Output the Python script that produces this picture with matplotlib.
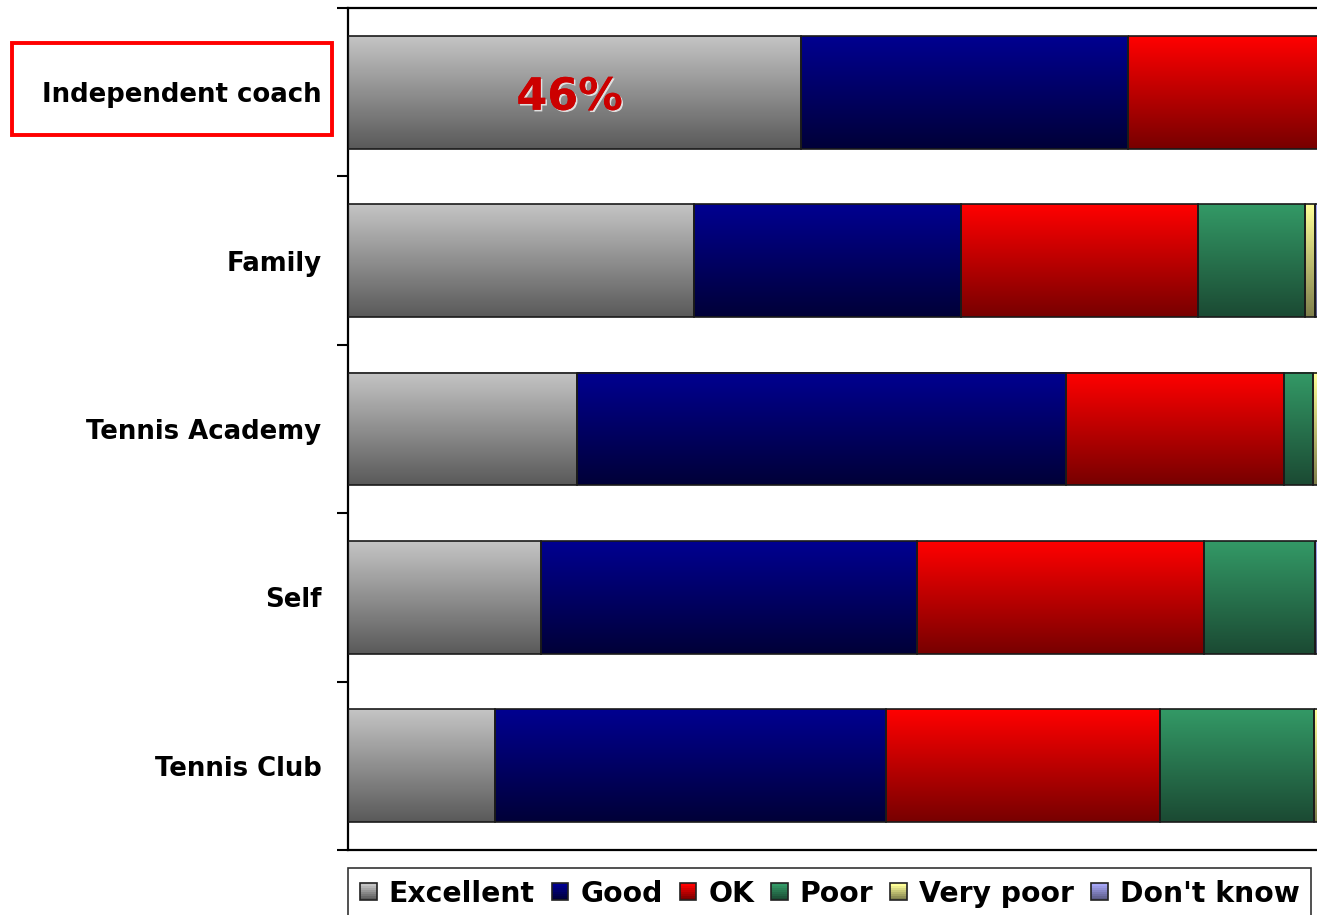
import numpy as np
import matplotlib
matplotlib.use('Agg')
import matplotlib.pyplot as plt
from matplotlib.patches import Rectangle
from matplotlib.legend_handler import HandlerBase
from matplotlib.colors import to_rgb
import matplotlib.patheffects as pe

# survey answers per source, in percent
sources = ['Independent coach', 'Family', 'Tennis Academy', 'Self', 'Tennis Club']
ratings = ['Excellent', 'Good', 'OK', 'Poor', 'Very poor', "Don't know"]
excellent = [46.0, 35.1, 23.2, 19.6, 14.9]
good = [33.2, 27.1, 49.7, 38.2, 39.7]
ok = [20.8, 24.1, 22.1, 29.1, 27.8]
poor = [0.0, 10.9, 3.0, 11.3, 15.7]
very_poor = [0.0, 1.0, 0.5, 0.0, 0.5]
dont_know = [0.0, 1.8, 1.5, 1.8, 1.4]
series = [excellent, good, ok, poor, very_poor, dont_know]

# top and bottom colour of each vertical gradient
shades = [('#C4C4C4', '#5A5A5A'),
          ('#000090', '#000038'),
          ('#FF0000', '#780000'),
          ('#339966', '#1B4A33'),
          ('#FFFF99', '#7F7F4C'),
          ('#A5A5F5', '#5A5A85')]

FONT = 'DejaVu Sans'


def gradient(top, bottom, n=64):
    t = np.linspace(0, 1, n)[:, None]
    c = (1 - t) * np.array(to_rgb(top)) + t * np.array(to_rgb(bottom))
    return c[:, None, :]


class GradientHandler(HandlerBase):
    def __init__(self, top, bottom):
        super().__init__()
        self.top, self.bottom = top, bottom

    def create_artists(self, legend, orig_handle, xdescent, ydescent,
                       width, height, fontsize, trans):
        side = min(width, height)
        x0 = -xdescent
        y0 = -ydescent + (height - side) / 2
        n = 8
        arts = []
        for i in range(n):
            col = gradient(self.top, self.bottom, n)[i, 0]
            arts.append(Rectangle((x0, y0 + side * (n - 1 - i) / n), side, side / n,
                                  facecolor=col, edgecolor='none', transform=trans))
        arts.append(Rectangle((x0, y0), side, side, facecolor='none',
                              edgecolor='#222222', lw=1.2, transform=trans))
        return arts


W, H = 1317, 915
fig = plt.figure(figsize=(W / 100, H / 100), dpi=100)
ax = fig.add_axes([348 / W, 1 - 850 / H, 985 / W, 842 / H])

y = np.arange(len(sources))
bar_h = 0.67
left = np.zeros(len(sources))
handles = []
for vals, (top, bottom), name in zip(series, shades, ratings):
    bars = ax.barh(y, vals, left=left, height=bar_h, facecolor='none',
                   edgecolor='#1a1a1a', linewidth=1.2, zorder=3, label=name)
    for p in bars.patches:
        if p.get_width() <= 0:
            continue
        x0, y0 = p.get_x(), p.get_y()
        ax.imshow(gradient(top, bottom), extent=(x0, x0 + p.get_width(), y0 + p.get_height(), y0),
                  origin='upper', aspect='auto', zorder=2, interpolation='bilinear')
    handles.append(bars)
    left += np.array(vals)

ax.set_xlim(0, 100)
ax.set_ylim(len(sources) - 0.5, -0.5)

# value label on the first segment
ax.text(excellent[0] / 2 - 0.5, 0.03, f'{excellent[0]:.0f}%', ha='center', va='center',
        fontsize=32, fontweight='bold', color='#CC0000', family=FONT, zorder=5,
        path_effects=[pe.withSimplePatchShadow(offset=(1.2, -1.2), shadow_rgbFace='#e0e0e0', alpha=1),
                      pe.Normal()])

ax.set_yticks(y)
ax.set_yticklabels(sources, fontsize=18.7, fontweight='bold', family=FONT)
ax.set_yticks(np.arange(len(sources) + 1) - 0.5, minor=True)
ax.tick_params(axis='y', which='major', length=0, pad=19)
ax.tick_params(axis='y', which='minor', length=8, width=1.5, direction='out')
ax.set_xticks([])

for s in ['left', 'top', 'bottom']:
    ax.spines[s].set_linewidth(1.6)
ax.spines['right'].set_visible(False)

# highlight box around the first category
fig.add_artist(Rectangle((12 / W, 1 - 135 / H), 320 / W, 92 / H, transform=fig.transFigure,
                         fill=False, edgecolor='red', linewidth=2.8))

leg = fig.legend(handles, ratings, loc='upper left', bbox_to_anchor=(348 / W, 1 - 868 / H),
                 ncol=6, frameon=True, fancybox=False, borderaxespad=0,
                 prop={'family': FONT, 'weight': 'bold', 'size': 20.3},
                 handlelength=0.6, handleheight=0.6, handletextpad=0.42,
                 columnspacing=0.6, borderpad=0.42,
                 handler_map={h: GradientHandler(*c) for h, c in zip(handles, shades)})
leg.get_frame().set_edgecolor('black')
leg.get_frame().set_linewidth(1.2)

fig.savefig('out.png', dpi=100)
